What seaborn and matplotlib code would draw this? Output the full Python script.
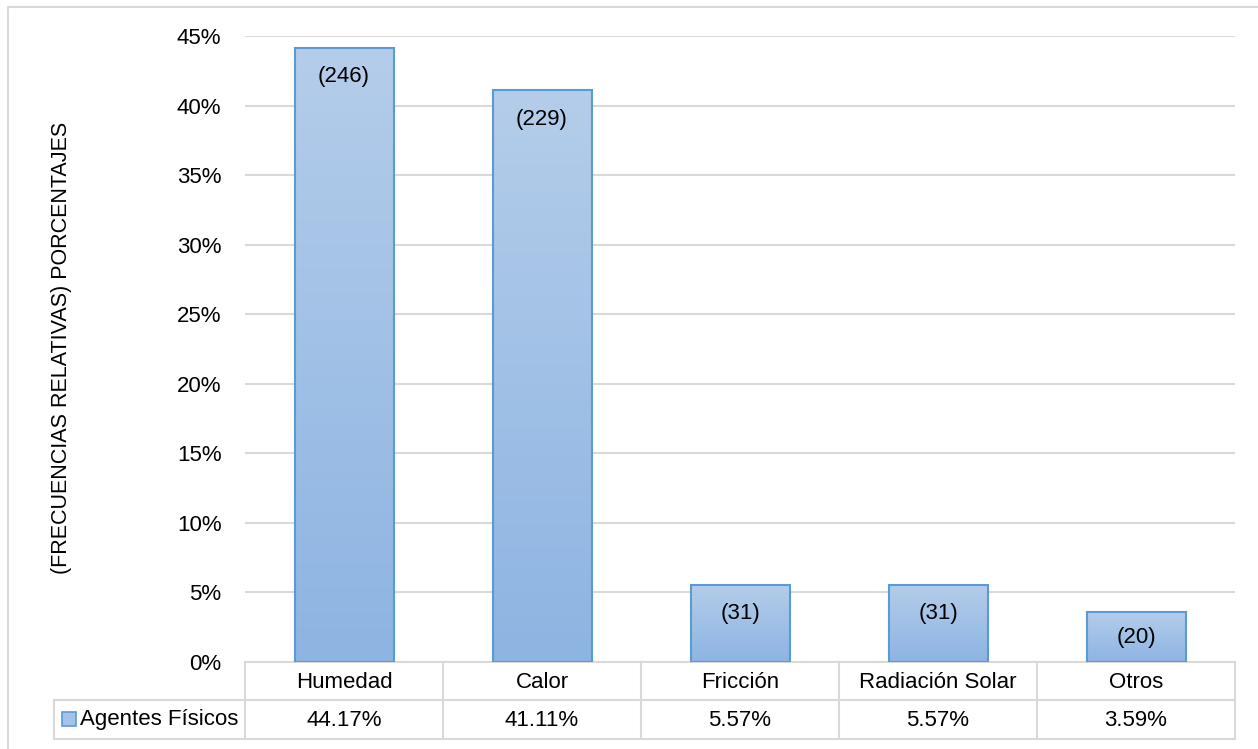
import numpy as np
import pandas as pd
import matplotlib
matplotlib.use("Agg")
import matplotlib.pyplot as plt
import seaborn as sns
from matplotlib.colors import LinearSegmentedColormap
from matplotlib.lines import Line2D
from matplotlib.patches import Rectangle

# Chart data
categories = ["Humedad", "Calor", "Fricción", "Radiación Solar", "Otros"]
percentages = [44.17, 41.11, 5.57, 5.57, 3.59]
counts = [246, 229, 31, 31, 20]
series_name = "Agentes Físicos"
y_ticks = [0, 5, 10, 15, 20, 25, 30, 35, 40, 45]
y_label = "(FRECUENCIAS RELATIVAS) PORCENTAJES"

W, H = 1258, 749
grid_col = "#d9d9d9"
edge_col = "#5b9bd5"
fs = 16

sns.set_theme(style="white")
plt.rcParams["font.family"] = ["Liberation Sans", "DejaVu Sans"]

fig = plt.figure(figsize=(W / 100, H / 100), dpi=100)
# plot area in pixels: x 245..1235, y 36..662
ax = fig.add_axes([245 / W, 1 - 662 / H, 990 / W, 626 / H])

df = pd.DataFrame({"cat": categories, "pct": percentages})
sns.barplot(data=df, x="cat", y="pct", width=0.5, color="#a5c3e8",
            edgecolor=edge_col, linewidth=1.5, ax=ax, zorder=3)

# gradient fill inside each bar
cmap = LinearSegmentedColormap.from_list("bar", ["#b4cdea", "#8db4e2"])
grad = np.linspace(1, 0, 256).reshape(-1, 1)
for p in ax.patches:
    x0, y0, w, h = p.get_x(), p.get_y(), p.get_width(), p.get_height()
    im = ax.imshow(grad, extent=[x0, x0 + w, y0, y0 + h], origin="lower",
                   aspect="auto", cmap=cmap, vmin=0, vmax=1, zorder=2)
    im.set_clip_path(p)
    p.set_facecolor("none")

ax.set_xlim(-0.5, len(categories) - 0.5)
ax.set_ylim(0, 45)
ax.set_yticks(y_ticks)
ax.set_yticklabels([f"{t}%" for t in y_ticks])
ax.yaxis.grid(True, color=grid_col, linewidth=1.5)
ax.set_axisbelow(True)
ax.tick_params(axis="y", length=0, pad=17, labelsize=fs, labelcolor="black")
ax.tick_params(axis="x", length=0, labelbottom=False)
ax.set_xlabel("")
ax.set_ylabel("")
for s in ax.spines.values():
    s.set_visible(False)

# count labels inside the bar tops
px_per_unit = 626 / 45
for i, (pct, c) in enumerate(zip(percentages, counts)):
    off = min(29, pct * px_per_unit / 2) * 0.72
    ax.annotate(f"({c})", xy=(i, pct), xytext=(0, -off), textcoords="offset points",
                ha="center", va="center", fontsize=fs, color="black", zorder=5)

# data table below the plot (pixel helpers)
def axx(px):
    return (px - 245) / 990

def axy(py):
    return (662 - py) / 626

def hline(py, x1, x2):
    ax.add_line(Line2D([axx(x1), axx(x2)], [axy(py), axy(py)], transform=ax.transAxes,
                       color=grid_col, linewidth=1.5, clip_on=False))

def vline(px, y1, y2):
    ax.add_line(Line2D([axx(px), axx(px)], [axy(y1), axy(y2)], transform=ax.transAxes,
                       color=grid_col, linewidth=1.5, clip_on=False))

hline(662, 245, 1235)
hline(700, 54, 1235)
hline(739, 54, 1235)
for k in range(len(categories) + 1):
    vline(245 + 198 * k, 662, 739)
vline(54, 700, 739)

for i, (cat, pct) in enumerate(zip(categories, percentages)):
    ax.text(i, axy(683), cat, transform=ax.get_xaxis_transform(), ha="center", va="center",
            fontsize=fs, color="black", clip_on=False)
    ax.text(i, axy(721), f"{pct:.2f}%", transform=ax.get_xaxis_transform(), ha="center",
            va="center", fontsize=fs, color="black", clip_on=False)

ax.add_patch(Rectangle((axx(62), axy(726)), 14 / 990, 14 / 626, transform=ax.transAxes,
                       facecolor="#a5c3e8", edgecolor=edge_col, linewidth=1.2, clip_on=False))
ax.text(axx(80), axy(720), series_name, transform=ax.transAxes, ha="left", va="center",
        fontsize=fs, color="black", clip_on=False)

# y axis title
fig.text(62 / W, 1 - 348 / H, y_label, rotation=90, ha="center", va="center",
         fontsize=15.5, color="black")

# outer chart border (left and top edges visible)
fig.add_artist(Line2D([8 / W, 8 / W], [0, 1 - 7 / H], transform=fig.transFigure,
                      color=grid_col, linewidth=1.5))
fig.add_artist(Line2D([8 / W, 1], [1 - 7 / H, 1 - 7 / H], transform=fig.transFigure,
                      color=grid_col, linewidth=1.5))

fig.savefig("out.png", dpi=100, facecolor="white")
